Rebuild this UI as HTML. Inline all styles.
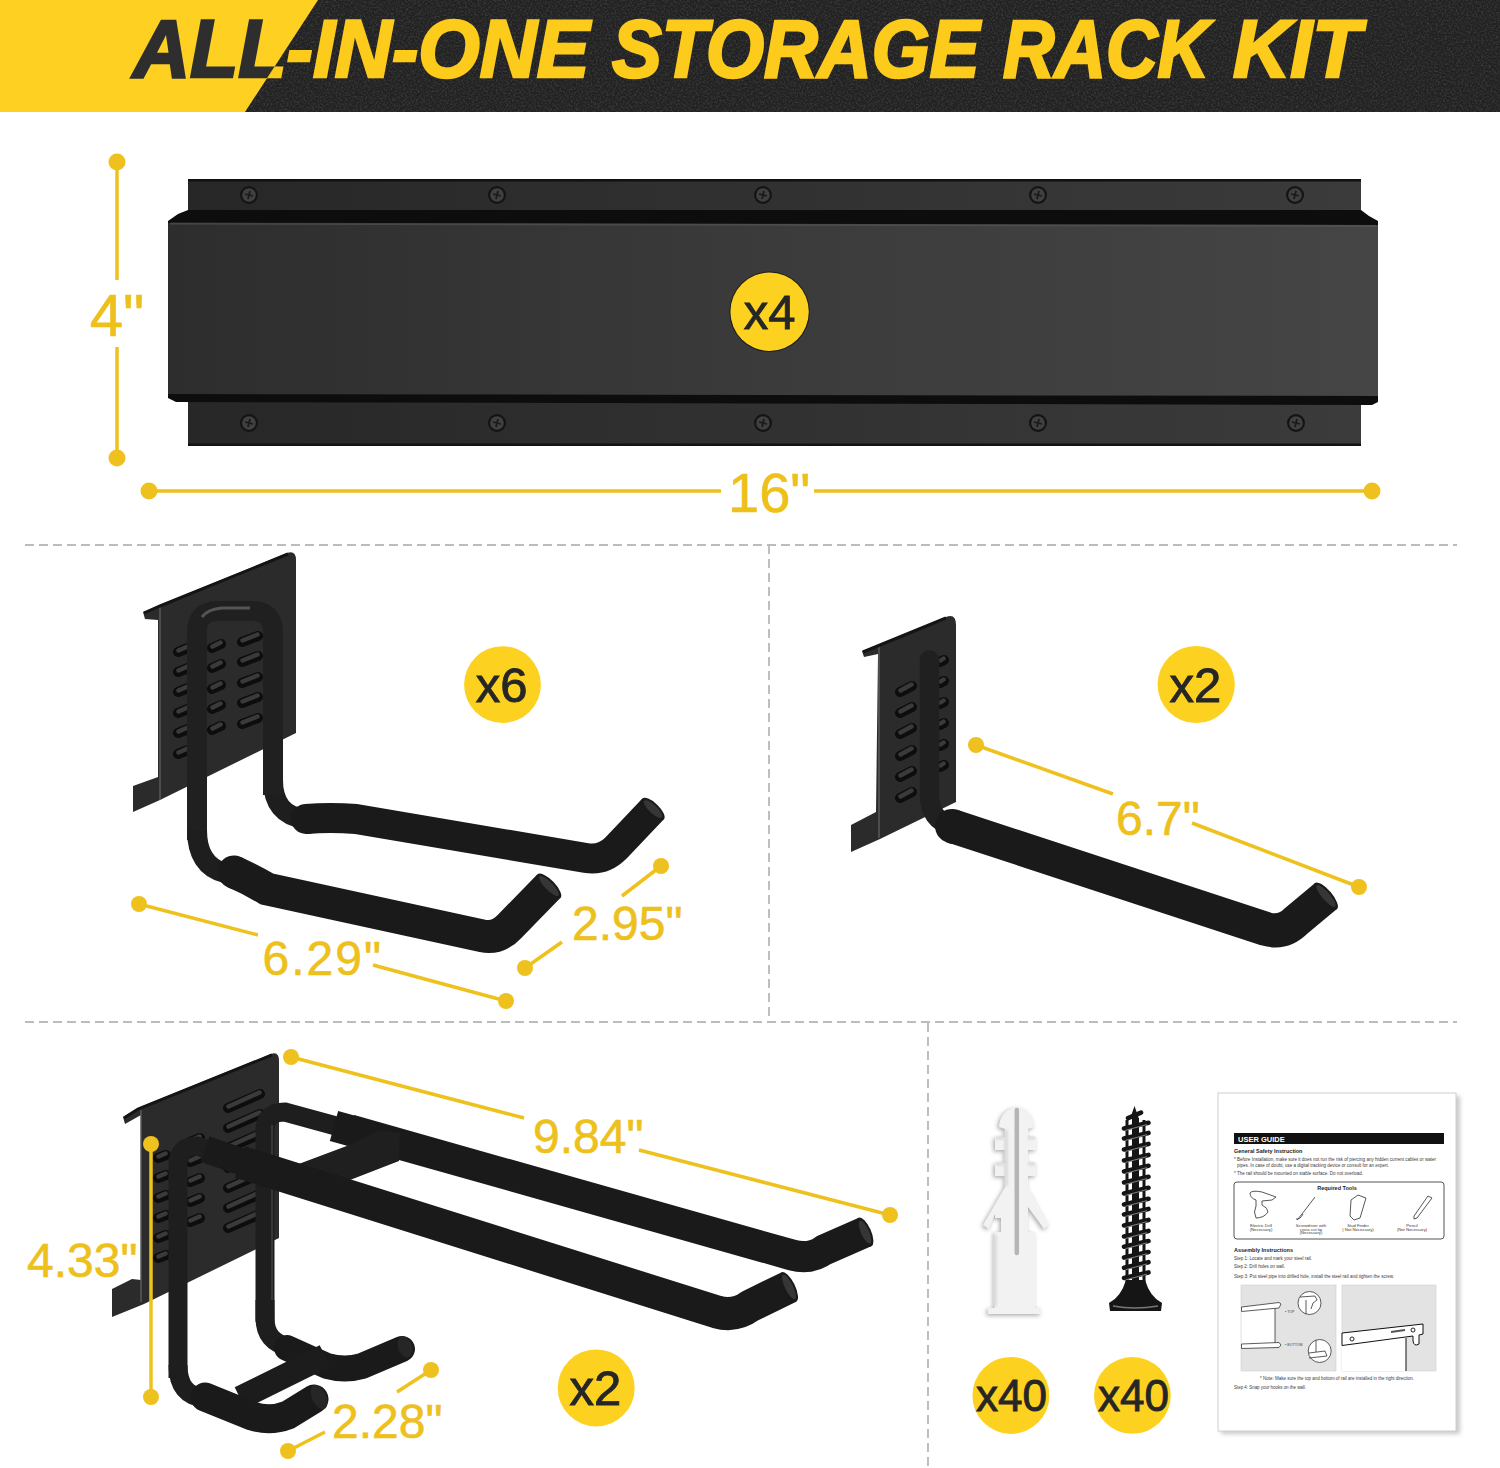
<!DOCTYPE html>
<html><head><meta charset="utf-8">
<style>
html,body{margin:0;padding:0;background:#fff;}
body{width:1500px;height:1468px;position:relative;overflow:hidden;font-family:"Liberation Sans",sans-serif;}
.abs{position:absolute;left:0;top:0;}
.ttl{position:absolute;left:0;top:0;width:1500px;height:112px;white-space:nowrap;}
.ttl span{position:absolute;top:7.8px;font:italic bold 78px/1 "Liberation Sans",sans-serif;transform-origin:0 0;white-space:nowrap;}
svg text{font-family:"Liberation Sans",sans-serif;}
</style></head><body>
<!-- HEADER -->
<div class="abs" style="width:1500px;height:112px;background:#212121;"></div>
<svg class="abs" width="1500" height="112">
<defs><filter id="nz" x="0" y="0" width="100%" height="100%"><feTurbulence type="fractalNoise" baseFrequency="0.55" numOctaves="3" seed="7"/><feColorMatrix values="0 0 0 0 0.28  0 0 0 0 0.28  0 0 0 0 0.28  0.55 0 0 0 -0.22"/></filter></defs>
<rect x="0" y="0" width="1500" height="112" filter="url(#nz)"/>
<polygon points="0,0 318,0 245,112 0,112" fill="#FDD022"/>
</svg>
<div class="ttl" style="clip-path:polygon(0 0,318px 0,245px 112px,0 112px);"><span style="left:133px;color:#2e2e2e;-webkit-text-stroke:2.6px #2e2e2e;transform:scale(1.013,1.04)">ALL-IN-ONE</span><span style="left:612px;color:#2e2e2e;-webkit-text-stroke:2.6px #2e2e2e;transform:scale(0.956,1.04)">STORAGE</span><span style="left:1003px;color:#2e2e2e;-webkit-text-stroke:2.6px #2e2e2e;transform:scale(0.914,1.04)">RACK</span><span style="left:1233px;color:#2e2e2e;-webkit-text-stroke:2.6px #2e2e2e;transform:scale(1.015,1.04)">KIT</span></div>
<div class="ttl" style="clip-path:polygon(318px 0,1500px 0,1500px 112px,245px 112px);"><span style="left:133px;color:#FDCB1B;-webkit-text-stroke:2.6px #FDCB1B;transform:scale(1.013,1.04)">ALL-IN-ONE</span><span style="left:612px;color:#FDCB1B;-webkit-text-stroke:2.6px #FDCB1B;transform:scale(0.956,1.04)">STORAGE</span><span style="left:1003px;color:#FDCB1B;-webkit-text-stroke:2.6px #FDCB1B;transform:scale(0.914,1.04)">RACK</span><span style="left:1233px;color:#FDCB1B;-webkit-text-stroke:2.6px #FDCB1B;transform:scale(1.015,1.04)">KIT</span></div>

<svg class="abs" width="1500" height="1468" viewBox="0 0 1500 1468">
<defs>
<linearGradient id="railG" x1="0" y1="0" x2="1" y2="0">
<stop offset="0" stop-color="#2d2d2d"/><stop offset="0.5" stop-color="#3b3b3b"/><stop offset="1" stop-color="#454545"/>
</linearGradient>
<linearGradient id="backG" x1="0" y1="0" x2="1" y2="0">
<stop offset="0" stop-color="#272727"/><stop offset="1" stop-color="#3b3b3b"/>
</linearGradient>
<g id="screw"><circle r="9" fill="#141414"/><circle r="6.8" fill="#404040"/><path d="M-4,-1 L4,1 M1,-4 L-1,4" stroke="#1a1a1a" stroke-width="1.8"/></g>
</defs>

<!-- RAIL -->
<rect x="188" y="179" width="1173" height="267" fill="url(#backG)"/>
<rect x="188" y="179" width="1173" height="2.5" fill="#111"/>
<rect x="188" y="443.5" width="1173" height="2.5" fill="#131313"/>
<polygon points="168,221 178,214 188,210 1361,210 1369,216 1378,221 1378,227 168,225" fill="#0d0d0d"/>
<polygon points="168,223 1378,225 1378,397 1376,401 168,397" fill="url(#railG)"/>
<path d="M170,223.5 L1376,226" stroke="#5a5a5a" stroke-width="2" opacity="0.55"/>
<polygon points="168,394 1378,396 1378,402 1372,405 176,402 168,398" fill="#0d0d0d"/>
<use href="#screw" x="249" y="195"/><use href="#screw" x="497" y="195"/><use href="#screw" x="763" y="195"/><use href="#screw" x="1038" y="195"/><use href="#screw" x="1295" y="195"/>
<use href="#screw" x="249" y="423"/><use href="#screw" x="497" y="423"/><use href="#screw" x="763" y="423"/><use href="#screw" x="1038" y="423"/><use href="#screw" x="1296" y="423"/>

<!-- badges -->
<circle cx="769.6" cy="311.8" r="40.2" fill="#1c1c1c"/>
<g fill="#FDD11F"><circle cx="769.6" cy="311.8" r="39.2"/><circle cx="502.5" cy="684.6" r="38.4"/><circle cx="1196.2" cy="684.5" r="38.6"/><circle cx="596.2" cy="1387.9" r="38.5"/><circle cx="1010.9" cy="1395.4" r="38.5"/><circle cx="1132.4" cy="1395.4" r="38.4"/></g>
<g fill="#262626" stroke="#262626" stroke-width="0.9" text-anchor="middle">
<text id="b4" x="769.75" y="329.3" font-size="49">x4</text><text id="b6" x="501.6" y="702.2" font-size="49">x6</text><text id="b2" x="1195.4" y="702" font-size="49">x2</text><text id="b2b" x="595.4" y="1405.2" font-size="49">x2</text><text id="b40" x="1011.6" y="1410.9" font-size="44">x40</text><text id="b40b" x="1133.4" y="1410.9" font-size="44">x40</text>
</g>

<!-- HOOK 1 (x6) -->
<g id="hook1">
<path d="M143,612 L160,605 L287,553 Q296,550 296,560 L296,733 L160,800 L133,812 L133,786 L158,777 L158,620 L145,619 Z" fill="#2b2b2b"/>
<path d="M160,606 V800" stroke="#5a5a5a" stroke-width="1.5"/><path d="M144,613 L160,606 L288,554" stroke="#141414" stroke-width="3" fill="none"/>
<g stroke-linecap="round" fill="none"><path d="M178.0,652.0 L188.0,648.0 M178.0,672.0 L188.0,668.0 M178.0,692.0 L188.0,688.0 M178.0,713.0 L188.0,709.0 M178.0,733.0 L188.0,729.0 M178.0,754.0 L188.0,750.0 M212.0,648.0 L221.0,644.0 M212.0,668.0 L221.0,664.0 M212.0,689.0 L221.0,685.0 M212.0,709.0 L221.0,705.0 M212.0,730.0 L221.0,726.0 M242.0,642.0 L258.0,636.0 M242.0,662.0 L258.0,656.0 M242.0,683.0 L258.0,677.0 M242.0,703.0 L258.0,697.0 M242.0,724.0 L258.0,718.0" stroke="#0d0d0d" stroke-width="10"/><path d="M178.5,650.5 L187.5,646.5 M178.5,670.5 L187.5,666.5 M178.5,690.5 L187.5,686.5 M178.5,711.5 L187.5,707.5 M178.5,731.5 L187.5,727.5 M178.5,752.5 L187.5,748.5 M212.5,646.5 L220.5,642.5 M212.5,666.5 L220.5,662.5 M212.5,687.5 L220.5,683.5 M212.5,707.5 L220.5,703.5 M212.5,728.5 L220.5,724.5 M242.5,640.5 L257.5,634.5 M242.5,660.5 L257.5,654.5 M242.5,681.5 L257.5,675.5 M242.5,701.5 L257.5,695.5 M242.5,722.5 L257.5,716.5" stroke="#3a3a3a" stroke-width="4.5"/></g>
<path d="M273,780 Q273,815 305,819" stroke="#1e1e1e" stroke-width="20" fill="none"/>
<path d="M306,819 L308,819" stroke="#1a1a1a" stroke-width="30" stroke-linecap="round"/><path d="M306,819 Q330,817 356,819 L586,858 Q603,861 616,848 L653,809" stroke="#1a1a1a" stroke-width="30" fill="none" stroke-linecap="butt" stroke-linejoin="round"/>
<path d="M197,840 V632 Q197,611 218,611 H252 Q273,611 273,632 V795" stroke="#202020" stroke-width="20" fill="none"/>
<path d="M202,617 Q208,609 222,608 H250" stroke="#555" stroke-width="3" fill="none"/>
<path d="M197,830 Q197,866 225,873" stroke="#1e1e1e" stroke-width="20" fill="none"/>
<path d="M234,872 L236,873" stroke="#1a1a1a" stroke-width="33" stroke-linecap="round"/><path d="M234,872 Q250,879 267,889 L483,936 Q498,939 510,926 L549,886" stroke="#1a1a1a" stroke-width="33" fill="none" stroke-linecap="butt" stroke-linejoin="round"/>
<ellipse cx="549.0" cy="886.0" rx="16.5" ry="6" transform="rotate(45.8 549.0 886.0)" fill="#1a1a1a"/><ellipse cx="549.0" cy="886.0" rx="13.5" ry="4" transform="rotate(45.8 549.0 886.0)" fill="#363636"/>
<ellipse cx="653.0" cy="809.0" rx="15.0" ry="6" transform="rotate(43.5 653.0 809.0)" fill="#1a1a1a"/><ellipse cx="653.0" cy="809.0" rx="12.0" ry="4" transform="rotate(43.5 653.0 809.0)" fill="#363636"/>
</g>

<!-- HOOK 2 (x2 single) -->
<g id="hook2">
<path d="M862,651 L880,644 L946,617 Q956,613 956,625 L956,802 L880,839 L851,852 L851,825 L876,812 L878,654 L864,657 Z" fill="#2b2b2b"/>
<path d="M879,645 V838" stroke="#5a5a5a" stroke-width="1.5"/><path d="M863,652 L880,645 L946,618" stroke="#141414" stroke-width="3" fill="none"/>
<g stroke-linecap="round" fill="none"><path d="M900.0,692.0 L912.0,686.0 M900.0,713.0 L912.0,707.0 M900.0,734.0 L912.0,728.0 M900.0,756.0 L912.0,750.0 M900.0,777.0 L912.0,771.0 M900.0,798.0 L912.0,792.0 M940.0,662.0 L944.0,660.0 M940.0,683.0 L944.0,681.0 M940.0,704.0 L944.0,702.0 M940.0,725.0 L944.0,723.0 M940.0,746.0 L944.0,744.0 M940.0,767.0 L944.0,765.0" stroke="#0d0d0d" stroke-width="10"/><path d="M900.5,690.5 L911.5,684.5 M900.5,711.5 L911.5,705.5 M900.5,732.5 L911.5,726.5 M900.5,754.5 L911.5,748.5 M900.5,775.5 L911.5,769.5 M900.5,796.5 L911.5,790.5 M940.5,660.5 L943.5,658.5 M940.5,681.5 L943.5,679.5 M940.5,702.5 L943.5,700.5 M940.5,723.5 L943.5,721.5 M940.5,744.5 L943.5,742.5 M940.5,765.5 L943.5,763.5" stroke="#3a3a3a" stroke-width="4.5"/></g>
<path d="M929.5,660 V795 Q929.5,820 952,826" stroke="#202020" stroke-width="19.5" fill="none" stroke-linecap="round"/>
<path d="M952,826 L954,827" stroke="#1a1a1a" stroke-width="34" stroke-linecap="round"/><path d="M952,826 L1266,929 Q1283,934 1296,921 L1326,896" stroke="#1a1a1a" stroke-width="34" fill="none" stroke-linecap="butt" stroke-linejoin="round"/>
<ellipse cx="1326.0" cy="896.0" rx="17.0" ry="6" transform="rotate(49.6 1326.0 896.0)" fill="#1a1a1a"/><ellipse cx="1326.0" cy="896.0" rx="14.0" ry="4" transform="rotate(49.6 1326.0 896.0)" fill="#363636"/>
</g>

<!-- HOOK 3 (x2 double) -->
<g id="hook3">
<path d="M123,1117 L138,1108 L271,1054 Q279,1051 279,1061 L279,1238 L144,1304 L112,1317 L112,1289 L132,1279 L141,1280 L141,1115 L125,1124 Z" fill="#2b2b2b"/>
<path d="M141,1110 V1302" stroke="#5a5a5a" stroke-width="1.5"/><path d="M124,1118 L138,1109 L272,1055" stroke="#141414" stroke-width="3" fill="none"/>
<g stroke-linecap="round" fill="none"><path d="M158.0,1158.0 L166.0,1155.0 M158.0,1178.0 L166.0,1175.0 M158.0,1198.0 L166.0,1195.0 M158.0,1218.0 L166.0,1215.0 M158.0,1238.0 L166.0,1235.0 M158.0,1258.0 L166.0,1255.0 M190.0,1142.0 L200.0,1138.0 M190.0,1162.0 L200.0,1158.0 M190.0,1182.0 L200.0,1178.0 M190.0,1202.0 L200.0,1198.0 M190.0,1222.0 L200.0,1218.0 M228.0,1108.0 L260.0,1094.0 M228.0,1128.0 L260.0,1114.0 M228.0,1148.0 L260.0,1134.0 M228.0,1168.0 L260.0,1154.0 M228.0,1188.0 L260.0,1174.0 M228.0,1208.0 L260.0,1194.0 M228.0,1228.0 L260.0,1214.0" stroke="#0d0d0d" stroke-width="10"/><path d="M158.5,1156.5 L165.5,1153.5 M158.5,1176.5 L165.5,1173.5 M158.5,1196.5 L165.5,1193.5 M158.5,1216.5 L165.5,1213.5 M158.5,1236.5 L165.5,1233.5 M158.5,1256.5 L165.5,1253.5 M190.5,1140.5 L199.5,1136.5 M190.5,1160.5 L199.5,1156.5 M190.5,1180.5 L199.5,1176.5 M190.5,1200.5 L199.5,1196.5 M190.5,1220.5 L199.5,1216.5 M228.5,1106.5 L259.5,1092.5 M228.5,1126.5 L259.5,1112.5 M228.5,1146.5 L259.5,1132.5 M228.5,1166.5 L259.5,1152.5 M228.5,1186.5 L259.5,1172.5 M228.5,1206.5 L259.5,1192.5 M228.5,1226.5 L259.5,1212.5" stroke="#3a3a3a" stroke-width="4.5"/></g>
<!-- back U -->
<path d="M265,1322 V1130 Q265,1112 285,1112 L336,1126" stroke="#1e1e1e" stroke-width="19" fill="none"/>
<path d="M272,1125 V1310" stroke="#4a4a4a" stroke-width="2" opacity="0.6"/>
<path d="M334,1126 L352,1131" stroke="#1a1a1a" stroke-width="31" fill="none" stroke-linecap="butt"/><path d="M350,1130 L792,1255 Q810,1260 824,1250 L865,1232" stroke="#1a1a1a" stroke-width="31" fill="none" stroke-linecap="butt" stroke-linejoin="round"/>
<ellipse cx="865.0" cy="1232.0" rx="15.5" ry="6" transform="rotate(65.9 865.0 1232.0)" fill="#1a1a1a"/><ellipse cx="865.0" cy="1232.0" rx="12.5" ry="4" transform="rotate(65.9 865.0 1232.0)" fill="#363636"/>
<path d="M265,1300 V1318 Q265,1342 289,1347" stroke="#1e1e1e" stroke-width="19" fill="none"/>
<path d="M287,1348 L327,1366 Q345,1371 362,1366 L402,1349" stroke="#1a1a1a" stroke-width="26" fill="none" stroke-linecap="round" stroke-linejoin="round"/>
<ellipse cx="405" cy="1347" rx="7" ry="11" transform="rotate(-20 405 1347)" fill="#262626"/>
<path d="M240,1398 L325,1356" stroke="#1c1c1c" stroke-width="24" fill="none"/>
<!-- crossbar -->
<polygon points="296,1165 352,1144 379,1130 400,1133 399,1161 350,1180" fill="#1f1f1f"/>
<!-- front U -->
<path d="M178,1378 V1165 Q178,1146 197,1146 L215,1152" stroke="#1e1e1e" stroke-width="19" fill="none"/>
<path d="M205,1149 L245,1163" stroke="#1a1a1a" stroke-width="27" fill="none" stroke-linecap="butt"/><path d="M240,1162 L717,1312 Q735,1317 750,1306 L789,1287" stroke="#1a1a1a" stroke-width="33" fill="none" stroke-linecap="butt" stroke-linejoin="round"/>
<ellipse cx="789.0" cy="1287.0" rx="16.5" ry="6" transform="rotate(64.0 789.0 1287.0)" fill="#1a1a1a"/><ellipse cx="789.0" cy="1287.0" rx="13.5" ry="4" transform="rotate(64.0 789.0 1287.0)" fill="#363636"/>
<path d="M178,1365 Q178,1396 205,1398" stroke="#1e1e1e" stroke-width="19" fill="none"/>
<path d="M205,1397 L252,1416 Q270,1422 288,1415 L314,1399" stroke="#1a1a1a" stroke-width="29" fill="none" stroke-linecap="round" stroke-linejoin="round"/>
<ellipse cx="319" cy="1397" rx="7" ry="13" transform="rotate(-25 319 1397)" fill="#262626"/>
</g>

<!-- dimension lines -->
<g stroke="#EFC11E" stroke-width="3.5" fill="none">
<path d="M117,162 V280 M117,347 V458"/>
<path d="M149,491 H721 M814,491 H1372"/>
<path d="M139,904 L258,935 M373,965 L506,1001"/>
<path d="M661,866 L622,896 M525,968 L562,942"/>
<path d="M976,745 L1113,794 M1192,823 L1359,887"/>
<path d="M151,1144 V1397"/>
<path d="M291,1057 L524,1118 M639,1150 L890,1215"/>
<path d="M431,1370 L397,1392 M288,1451 L325,1432"/>
</g>
<g fill="#EFC11E">
<circle cx="117" cy="162" r="8.5"/><circle cx="117" cy="458" r="8.5"/>
<circle cx="149" cy="491" r="8.5"/><circle cx="1372" cy="491" r="8.5"/>
<circle cx="139" cy="904" r="8"/><circle cx="506" cy="1001" r="8"/>
<circle cx="661" cy="866" r="8"/><circle cx="525" cy="968" r="8"/>
<circle cx="976" cy="745" r="8"/><circle cx="1359" cy="887" r="8"/>
<circle cx="151" cy="1144" r="8"/><circle cx="151" cy="1397" r="8"/>
<circle cx="291" cy="1057" r="8"/><circle cx="890" cy="1215" r="8"/>
<circle cx="431" cy="1370" r="8"/><circle cx="288" cy="1451" r="8"/>
</g>
<g fill="#EDC01C" stroke="#EDC01C" stroke-width="0.6">
<text id="d4" x="89.7" y="336" font-size="60">4"</text>
<text id="d16" x="728" y="512" font-size="56">16"</text>
<text id="d629" x="262.5" y="974.5" font-size="48" letter-spacing="2">6.29"</text>
<text id="d295" x="572" y="939.5" font-size="48">2.95"</text>
<text id="d67" x="1116" y="835" font-size="48">6.7"</text>
<text id="d984" x="533" y="1153" font-size="48">9.84"</text>
<text id="d433" x="27" y="1277" font-size="48">4.33"</text>
<text id="d228" x="332" y="1438" font-size="48">2.28"</text>
</g>




<!-- ANCHOR -->
<g id="anchor">
<defs><filter id="blur1" x="-30%" y="-30%" width="160%" height="160%"><feGaussianBlur stdDeviation="2.2"/></filter>
<filter id="blur2" x="-30%" y="-30%" width="160%" height="160%"><feGaussianBlur stdDeviation="1.2"/></filter></defs>
<path d="M999,1127 A17.5,19.5 0 0 1 1034,1127 L1028,1129 L1028,1137 L1036,1137 L1036,1150 L1028,1150 L1028,1163 L1036,1163 L1036,1176 L1028,1176 L1028,1187 L1049,1225 L1044,1229 L1028,1207 L1028,1232 L1035,1232 L1035,1308 L1041,1308 L1041,1314 L988,1314 L988,1308 L994.5,1308 L994.5,1232 L1001,1232 L1001,1218 L995,1218 L995,1214 L989,1229 L983,1225 L1005,1187 L1005,1176 L995,1176 L995,1163 L1005,1163 L1005,1150 L995,1150 L995,1137 L1005,1137 L1005,1129 Z" fill="#a9a9a9" filter="url(#blur1)" transform="translate(-1.5,1.5)"/>
<path d="M999,1127 A17.5,19.5 0 0 1 1034,1127 L1028,1129 L1028,1137 L1036,1137 L1036,1150 L1028,1150 L1028,1163 L1036,1163 L1036,1176 L1028,1176 L1028,1187 L1049,1225 L1044,1229 L1028,1207 L1028,1232 L1035,1232 L1035,1308 L1041,1308 L1041,1314 L988,1314 L988,1308 L994.5,1308 L994.5,1232 L1001,1232 L1001,1218 L995,1218 L995,1214 L989,1229 L983,1225 L1005,1187 L1005,1176 L995,1176 L995,1163 L1005,1163 L1005,1150 L995,1150 L995,1137 L1005,1137 L1005,1129 Z" fill="#f2f2f2"/>
<path d="M995,1235 V1306 M1006,1130 V1186" stroke="#dcdcdc" stroke-width="4" filter="url(#blur2)"/>
<path d="M996,1138 H1004 M996,1164 H1004 M1028,1138 H1035 M1028,1164 H1035" stroke="#d9d9d9" stroke-width="3" filter="url(#blur2)"/>
<path d="M1016.8,1110 V1253" stroke="#b5b5b5" stroke-width="4.5" stroke-linecap="round"/>
</g>

<!-- SCREW -->
<g id="screw2">
<path d="M1134.5,1106 L1139,1119 L1134.5,1119 L1130,1119 Z" fill="#151515"/>
<path d="M1127,1120 V1282 M1144,1120 V1282" stroke="#151515" stroke-width="3"/>
<path d="M1135.5,1118 V1282" stroke="#151515" stroke-width="7"/>
<g stroke="#151515" stroke-width="4.6" stroke-linecap="round"><path d="M1128.0,1118.2 L1141.0,1112.6 M1124.0,1128.4 L1148.5,1122.8 M1124.0,1138.5 L1148.5,1132.9 M1124.0,1149.5 L1148.5,1143.9 M1124.0,1160.5 L1148.5,1154.9 M1124.0,1171.4 L1148.5,1165.8 M1124.0,1182.4 L1148.5,1176.8 M1124.0,1193.4 L1148.5,1187.8 M1124.0,1204.4 L1148.5,1198.8 M1124.0,1214.5 L1148.5,1208.9 M1124.0,1225.5 L1148.5,1219.9 M1124.0,1236.5 L1148.5,1230.9 M1124.0,1246.7 L1148.5,1241.1 M1124.0,1257.6 L1148.5,1252.0 M1124.0,1267.8 L1148.5,1262.2 M1124.0,1278.0 L1148.5,1272.4"/></g>
<g stroke="#8f8f8f" stroke-width="0.9" stroke-linecap="round"><path d="M1126.0,1130.2 L1146.5,1124.7 M1126.0,1140.3 L1146.5,1134.8 M1126.0,1151.3 L1146.5,1145.8 M1126.0,1162.3 L1146.5,1156.8 M1126.0,1173.2 L1146.5,1167.7 M1126.0,1184.2 L1146.5,1178.7 M1126.0,1195.2 L1146.5,1189.7 M1126.0,1206.2 L1146.5,1200.7 M1126.0,1216.3 L1146.5,1210.8 M1126.0,1227.3 L1146.5,1221.8 M1126.0,1238.3 L1146.5,1232.8 M1126.0,1248.5 L1146.5,1243.0 M1126.0,1259.4 L1146.5,1253.9 M1126.0,1269.6 L1146.5,1264.1 M1126.0,1279.8 L1146.5,1274.3"/></g>
<path d="M1126,1280 L1145,1280 Q1150,1297 1162,1303 L1161,1311 L1110,1311 L1109,1303 Q1121,1297 1126,1280 Z" fill="#151515"/>
<path d="M1113,1306 Q1135,1310 1158,1306" stroke="#777" stroke-width="1.6" fill="none"/>
</g>

<!-- DOCUMENT -->
<g id="doc">
<rect x="1221" y="1096" width="239" height="338" fill="#c9c9c9" filter="url(#blur1)"/>
<rect x="1218" y="1093" width="238" height="338" fill="#fff" stroke="#cfcfcf" stroke-width="1"/>
<rect x="1234" y="1133" width="210" height="11" fill="#111"/>
<text x="1238" y="1141.5" font-size="7.5" font-weight="bold" fill="#fff">USER GUIDE</text>
<text x="1234" y="1153" font-size="5.5" font-weight="bold" fill="#222">General Safety Instruction</text>
<g font-size="4.6" fill="#3a3a3a">
<text x="1234" y="1161" textLength="202" lengthAdjust="spacingAndGlyphs">* Before Installation, make sure it does not run the risk of piercing any hidden  current cables or water</text>
<text x="1237" y="1166.5" textLength="152" lengthAdjust="spacingAndGlyphs">pipes. In case of doubt, use a digital tracking device or consult for an expert.</text>
<text x="1234" y="1174.5" textLength="129" lengthAdjust="spacingAndGlyphs">* The rail should be mounted on stable surface. Do not overload.</text>
</g>
<rect x="1234" y="1182" width="210" height="57" rx="3" fill="none" stroke="#555" stroke-width="1"/>
<text x="1337" y="1190" font-size="5.5" font-weight="bold" fill="#222" text-anchor="middle">Required Tools</text>
<g fill="none" stroke="#444" stroke-width="0.9">
<path d="M1250,1193 Q1252,1190 1262,1192 L1276,1197 L1272,1200 L1262,1201 L1262,1205 Q1268,1208 1268,1212 Q1264,1218 1256,1218 Q1253,1212 1256,1206 L1256,1200 Q1250,1198 1250,1193 Z"/>
<path d="M1297,1220 L1302,1214 L1315,1197 M1303,1214 Q1300,1220 1296,1219"/>
<path d="M1351,1200 L1358,1195 L1366,1198 L1360,1218 L1354,1220 L1350,1216 Z"/>
<path d="M1428,1196 L1432,1198 L1417,1218 L1414,1219 L1414,1216 Z"/>
</g>
<g font-size="4.2" fill="#3a3a3a" text-anchor="middle">
<text x="1261" y="1226.5">Electric Drill</text><text x="1261" y="1230.5">(Necessary)</text>
<text x="1311" y="1226.5">Screwdriver with</text><text x="1311" y="1230.5">cross cut tip</text><text x="1311" y="1234">(Necessary)</text>
<text x="1358" y="1226.5">Stud Finder</text><text x="1358" y="1230.5">( Not Necessary)</text>
<text x="1412" y="1226.5">Pencil</text><text x="1412" y="1230.5">(Not Necessary)</text>
</g>
<text x="1234" y="1252" font-size="5.5" font-weight="bold" fill="#222">Assembly Instructions</text>
<g font-size="4.6" fill="#3a3a3a">
<text x="1234" y="1260.2" textLength="78" lengthAdjust="spacingAndGlyphs">Step 1: Locate and mark your steel rail.</text>
<text x="1234" y="1268.2" textLength="51" lengthAdjust="spacingAndGlyphs">Step 2: Drill holes on wall.</text>
<text x="1234" y="1277.5" textLength="160" lengthAdjust="spacingAndGlyphs">Step 3: Put steel pipe into drilled hole, install the steel rail and tighten the screw.</text>
<text x="1260" y="1379.5" textLength="154" lengthAdjust="spacingAndGlyphs">* Note: Make sure the top and bottom of rail are installed in the right direction.</text>
<text x="1234" y="1388.5" textLength="72" lengthAdjust="spacingAndGlyphs">Step 4: Snap your hooks on the wall.</text>
</g>
<rect x="1241" y="1285" width="95" height="86" fill="#e3e3e3" stroke="#cfcfcf" stroke-width="0.6"/>
<rect x="1342" y="1285" width="94" height="86" fill="#e3e3e3" stroke="#cfcfcf" stroke-width="0.6"/>
<path d="M1241.5,1309 L1275,1306 L1275,1345 L1241.5,1346 Z" fill="#fff"/>
<path d="M1275,1307 V1345" stroke="#333" stroke-width="0.8"/>
<path d="M1241.5,1307 L1279,1302.5 L1281,1304 L1279,1308 L1241.5,1311.5 Z" fill="#fff" stroke="#333" stroke-width="0.8"/>
<path d="M1241.5,1344 L1279,1342.5 L1281,1345 L1279,1347.5 L1241.5,1348.5 Z" fill="#fff" stroke="#333" stroke-width="0.8"/>
<text x="1285" y="1313" font-size="3.6" fill="#444">• TOP</text>
<text x="1285" y="1346" font-size="3.6" fill="#444">• BOTTOM</text>
<circle cx="1309.5" cy="1303" r="11.5" fill="#fff" stroke="#333" stroke-width="0.8"/>
<path d="M1300,1297 L1315,1296 L1317,1300 L1313,1303 L1311,1309 M1306,1300 V1314" fill="none" stroke="#333" stroke-width="0.8"/>
<circle cx="1319.7" cy="1351" r="11.5" fill="#fff" stroke="#333" stroke-width="0.8"/>
<path d="M1309,1353 L1325,1351 L1327,1356 L1309,1358 M1316,1340 V1352" fill="none" stroke="#333" stroke-width="0.8"/>
<path d="M1342,1345 L1406,1337 L1406,1371 L1342,1371 Z" fill="#fff"/>
<path d="M1342,1333 L1423,1324 L1423,1334 L1419,1335 L1419,1344 Q1414,1347 1413,1341 L1413,1336 L1342,1345.5 Z" fill="#fff" stroke="#111" stroke-width="1"/>
<path d="M1406,1338 V1371" stroke="#111" stroke-width="1"/>
<circle cx="1352" cy="1339" r="2" fill="none" stroke="#111" stroke-width="0.9"/>
<circle cx="1413" cy="1330" r="2" fill="none" stroke="#111" stroke-width="0.9"/>
<path d="M1391,1332 L1405,1330" stroke="#555" stroke-width="2.2"/>
</g>

<!-- dashed separators -->
<g stroke="#bcbcbc" stroke-width="1.9" stroke-dasharray="9 5" fill="none">
<path d="M25,545 H1457"/>
<path d="M25,1022 H1457"/>
<path d="M769,545 V1022"/>
<path d="M928,1023 V1468"/>
</g>

</svg>
</body></html>
